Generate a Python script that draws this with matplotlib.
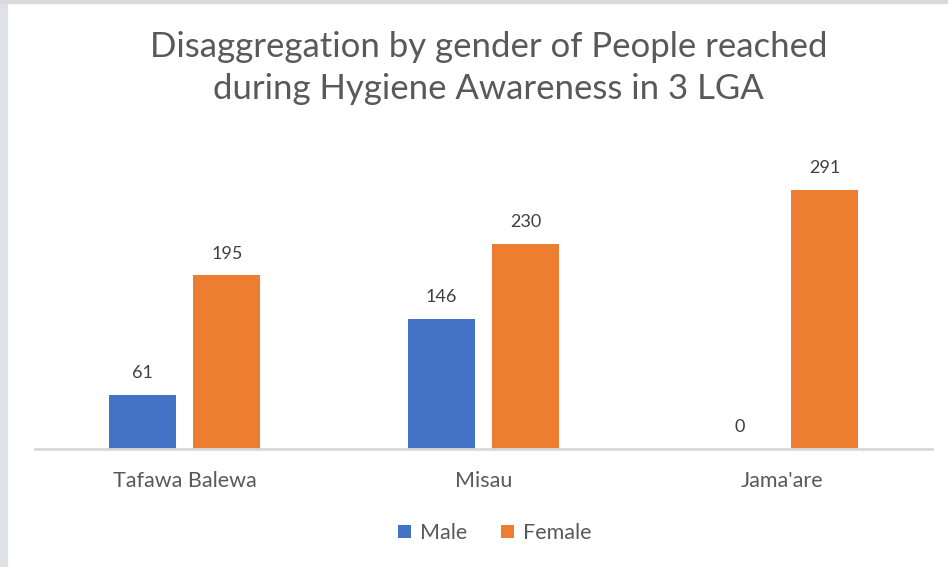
import numpy as np
import matplotlib.pyplot as plt
from matplotlib.patches import Rectangle

# chart data
lgas = ["Tafawa Balewa", "Misau", "Jama'are"]
male = [61, 146, 0]
female = [195, 230, 291]
title = "Disaggregation by gender of People reached\nduring Hygiene Awareness in 3 LGA"

plt.rcParams['font.family'] = ['Lato', 'DejaVu Sans']

fig = plt.figure(figsize=(9.48, 5.67), dpi=100)
ax = fig.add_axes([0.0369, 0.2081, 0.9462, 0.518])

x = np.arange(len(lgas))
w = 0.224
off = 0.142
b1 = ax.bar(x - off, male, w, color="#4472C4", label="Male")
b2 = ax.bar(x + off, female, w, color="#ED7D31", label="Female")

# value labels above the bars
for bars in (b1, b2):
    for r in bars:
        ax.annotate(str(int(r.get_height())),
                    (r.get_x() + r.get_width() / 2, r.get_height()),
                    xytext=(0, 10), textcoords="offset points",
                    ha="center", va="bottom", fontsize=13, color="#404040")

ax.set_xlim(-0.5, 2.5)
ax.set_ylim(0, 330)
ax.set_yticks([])
ax.set_xticks(x)
ax.set_xticklabels(lgas, fontsize=15.5, color="#595959")
ax.tick_params(axis="x", length=0, pad=16)
for s in ["top", "right", "left"]:
    ax.spines[s].set_visible(False)
ax.spines["bottom"].set_color("#D9D9D9")
ax.spines["bottom"].set_linewidth(2)

fig.text(0.5153, 0.88, title, ha="center", va="center", fontsize=25,
         color="#595959", linespacing=1.36)

leg = fig.legend(handles=[b1, b2], loc="center", bbox_to_anchor=(0.522, 0.060),
                 ncol=2, frameon=False, fontsize=15.5, handlelength=0.6,
                 handleheight=0.6, handletextpad=0.4, columnspacing=1.6)
for t in leg.get_texts():
    t.set_color("#595959")

# grey window border at top and left
fig.patches.append(Rectangle((0, 0), 7 / 948, 1, transform=fig.transFigure,
                             color="#DEE2E6", zorder=5))
fig.patches.append(Rectangle((0, 1 - 3 / 567), 1, 3 / 567, transform=fig.transFigure,
                             color="#DADADA", zorder=5))

fig.savefig("out.png", dpi=100)
